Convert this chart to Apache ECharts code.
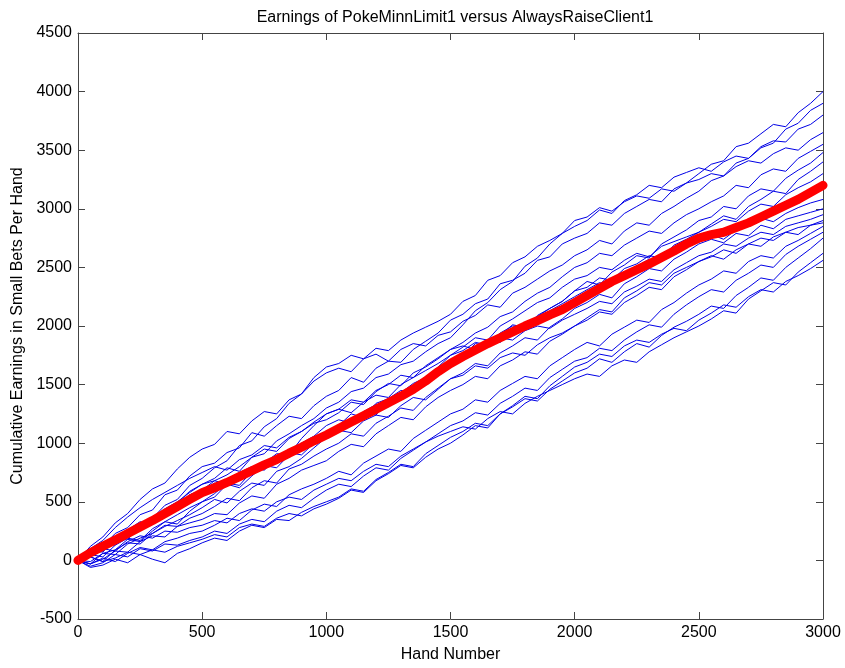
<!DOCTYPE html>
<html>
<head>
<meta charset="utf-8">
<script src="https://cdn.jsdelivr.net/npm/echarts@6/dist/echarts.min.js"></script>
<style>
html,body{margin:0;padding:0;background:#fff;}
#chart{width:845px;height:668px;}
</style>
</head>
<body>
<div id="chart"></div>
<script>
const titleText = 'Earnings of PokeMinnLimit1 versus AlwaysRaiseClient1';
const xName = 'Hand Number';
const yName = 'Cumulative Earnings in Small Bets Per Hand';

const hands = [0,50,100,150,200,250,300,350,400,450,500,550,600,650,700,750,800,850,900,950,1000,
1050,1100,1150,1200,1250,1300,1350,1400,1450,1500,1550,1600,1650,1700,1750,1800,1850,1900,1950,2000,
2050,2100,2150,2200,2250,2300,2350,2400,2450,2500,2550,2600,2650,2700,2750,2800,2850,2900,2950,3000];

const runA = [0,70,120,230,280,390,430,560,600,720,800,830,920,960,1090,1060,1150,1230,1210,1320,1400,
1450,1560,1520,1640,1700,1690,1800,1870,1940,2050,2100,2190,2230,2360,2390,2450,2560,2590,2700,2750,
2790,2880,2860,2960,3020,3080,3060,3170,3220,3300,3380,3410,3530,3560,3640,3720,3700,3820,3900,4000];
const runB = [0,120,200,320,400,520,610,660,780,880,950,990,1100,1080,1190,1270,1250,1370,1420,1530,1600,
1640,1610,1720,1760,1700,1800,1850,1830,1920,1950,2040,2090,2180,2160,2280,2330,2400,2470,2520,2600,
2650,2730,2700,2810,2880,2860,2960,3020,3090,3150,3240,3280,3390,3430,3520,3560,3680,3730,3840,3900];
const runC = [0,30,120,150,260,300,360,470,520,640,700,790,850,980,1020,1140,1210,1340,1420,1560,1650,
1680,1750,1720,1810,1790,1880,1940,1990,2040,2100,2210,2260,2390,2430,2540,2590,2680,2730,2790,2850,
2900,2990,2960,3070,3120,3200,3180,3270,3310,3350,3320,3400,3450,3430,3530,3580,3570,3680,3720,3800];
const runD = [0,50,80,170,240,300,340,420,470,560,600,680,730,800,880,910,1020,1080,1150,1210,1300,
1350,1440,1470,1560,1590,1670,1700,1780,1850,1900,2010,2130,2200,2310,2380,2510,2580,2700,2790,2900,
2930,3010,2980,3060,3110,3090,3170,3150,3220,3250,3300,3280,3360,3410,3390,3470,3520,3500,3590,3650];
const runE = [0,100,170,280,370,450,520,580,640,700,750,800,770,860,900,980,960,1050,1100,1170,1200,
1260,1350,1330,1440,1510,1490,1600,1650,1720,1800,1860,1940,1990,2080,2120,2210,2280,2330,2420,2500,
2540,2620,2600,2690,2750,2810,2790,2880,2950,3000,3060,3110,3200,3180,3290,3340,3320,3430,3490,3550];
const runF = [0,-30,60,90,180,160,250,330,310,420,500,540,650,620,720,810,790,900,960,1010,1100,
1150,1250,1220,1340,1380,1450,1430,1560,1620,1700,1740,1850,1830,1920,2010,1990,2080,2150,2210,2300,
2380,2350,2460,2520,2600,2580,2700,2760,2820,2900,2930,3020,3000,3110,3170,3150,3260,3330,3390,3480];
const runG = [0,60,150,130,240,310,360,440,500,580,650,700,790,760,880,950,930,1040,1100,1180,1250,
1290,1260,1350,1410,1390,1500,1560,1620,1680,1750,1820,1900,1880,2000,2060,2130,2200,2240,2330,2400,
2430,2500,2480,2560,2620,2590,2680,2720,2760,2800,2870,2940,2910,3020,3080,3150,3130,3250,3320,3400];
const runH = [0,30,-10,90,150,140,230,290,340,390,450,520,490,590,660,640,760,800,870,960,1050,
1120,1190,1260,1240,1370,1430,1510,1560,1650,1750,1790,1860,1840,1940,2000,1980,2090,2150,2210,2300,
2330,2410,2390,2490,2530,2600,2580,2690,2740,2800,2850,2910,2890,2980,3040,3020,3120,3180,3230,3300];
const runI = [0,60,120,200,180,290,360,420,470,560,600,660,640,730,790,770,870,930,1000,1060,1150,
1200,1170,1270,1330,1310,1420,1470,1560,1620,1700,1760,1810,1880,1860,1960,2020,2060,2130,2190,2250,
2310,2370,2340,2460,2510,2570,2550,2650,2700,2750,2780,2740,2820,2860,2920,2890,2960,3010,3050,3080];
const runJ = [0,-10,60,50,140,190,230,300,290,360,400,460,530,510,620,680,660,780,820,890,950,
1000,1080,1060,1170,1230,1300,1280,1390,1470,1550,1600,1680,1660,1770,1830,1900,1880,1990,2060,2150,
2200,2270,2240,2360,2420,2490,2470,2570,2630,2700,2740,2710,2790,2770,2860,2830,2910,2940,2970,3000];
const runK = [0,50,30,130,190,170,270,330,390,450,500,570,660,640,760,830,910,900,1040,1150,1250,
1290,1370,1350,1450,1500,1580,1560,1660,1730,1800,1830,1800,1860,1900,1880,1960,2000,1980,2050,2100,
2150,2210,2190,2290,2340,2400,2380,2480,2540,2600,2630,2700,2680,2750,2800,2780,2850,2880,2910,2950];
const runL = [0,-30,10,80,70,160,210,200,290,320,350,400,390,490,550,530,650,700,770,810,850,
930,990,970,1080,1150,1220,1200,1310,1390,1450,1500,1570,1550,1660,1710,1780,1760,1870,1930,2000,
2050,2120,2100,2200,2260,2330,2310,2420,2480,2550,2600,2570,2650,2700,2680,2760,2800,2780,2860,2900];
const runM = [0,90,70,190,260,330,310,420,490,590,650,680,650,750,800,780,870,920,900,1000,1050,
1110,1090,1190,1240,1220,1320,1390,1370,1460,1550,1580,1660,1640,1730,1770,1750,1840,1900,1940,2000,
2070,2140,2120,2240,2300,2370,2350,2450,2500,2550,2590,2650,2620,2700,2750,2730,2800,2840,2860,2880];
const runN = [0,-30,20,-10,60,110,90,160,190,230,250,300,360,340,430,480,460,560,610,650,700,
760,730,830,890,950,930,1040,1110,1180,1250,1290,1370,1350,1450,1510,1570,1550,1660,1730,1800,
1860,1830,1930,1990,2050,2030,2140,2200,2280,2350,2400,2470,2450,2550,2600,2580,2680,2730,2790,2850];
const runO = [0,-50,-20,50,30,100,80,140,130,170,200,250,230,310,350,330,420,470,450,530,600,
650,630,720,790,770,870,940,1010,1080,1150,1190,1260,1240,1340,1400,1470,1450,1560,1630,1700,
1730,1810,1790,1880,1950,2010,1990,2100,2180,2250,2310,2290,2390,2450,2520,2500,2610,2680,2740,2800];
const runP = [0,30,-10,20,70,50,10,-20,60,100,150,190,170,250,300,280,350,340,410,460,500,
540,610,590,690,750,820,800,910,980,1050,1100,1170,1150,1250,1310,1380,1360,1460,1530,1600,
1640,1720,1690,1780,1850,1820,1920,1990,2040,2100,2170,2150,2260,2330,2410,2390,2500,2580,2660,2750];
const runQ = [0,40,100,80,160,210,190,250,240,280,300,340,320,400,440,420,500,540,520,600,650,
700,680,760,820,800,890,950,1010,1060,1100,1140,1120,1210,1270,1250,1340,1400,1450,1500,1550,
1590,1570,1660,1710,1690,1780,1840,1900,1950,2000,2060,2130,2110,2230,2300,2370,2350,2460,2540,2620];
const runR = [0,-60,-40,10,-20,50,90,70,120,150,180,220,200,280,310,290,360,400,380,440,480,
530,600,580,680,740,810,790,880,950,1000,1070,1150,1130,1250,1320,1400,1380,1490,1570,1650,
1690,1760,1740,1830,1880,1860,1930,1980,1960,2050,2110,2180,2160,2250,2310,2290,2380,2430,2490,2560];

const meanRun = [0,65,120,175,230,285,340,400,460,520,578,620,665,715,765,815,860,915,965,1020,1070,
1125,1180,1235,1290,1345,1400,1460,1530,1610,1680,1740,1795,1850,1900,1950,2000,2045,2095,2140,2200,
2260,2320,2380,2430,2480,2530,2585,2640,2700,2750,2780,2800,2840,2880,2930,2980,3030,3080,3140,3200];

const blueRuns = [runA,runB,runC,runD,runE,runF,runG,runH,runI,runJ,runK,runL,runM,runN,runO,runP,runQ,runR];

const FONT = 'Liberation Sans, Arial, Helvetica, sans-serif';
const AXC = '#444';

function pairs(ys){ return ys.map((v,i)=>[hands[i], v]); }

const series = blueRuns.map(r => ({
  type:'line', data:pairs(r), showSymbol:false, symbol:'none', silent:true,
  lineStyle:{color:'#0000e6', width:1}, z:2
}));
series.push({
  type:'line', data:pairs(meanRun), showSymbol:false, symbol:'none', silent:true,
  lineStyle:{color:'#ff0000', width:9, cap:'round', join:'round'}, z:3
});

const plain = v => String(v);

const chart = echarts.init(document.getElementById('chart'), null, {renderer:'canvas'});
chart.setOption({
  animation:false,
  backgroundColor:'#fff',
  title:{
    text:titleText, left:450, top:5, textAlign:'center',
    textStyle:{fontFamily:FONT, fontSize:16, fontWeight:'normal', color:'#000'}
  },
  grid:{left:78, right:22, top:33, bottom:47, containLabel:false},
  xAxis:[{
    type:'value', min:0, max:3000, interval:500, position:'bottom',
    name:xName, nameLocation:'middle', nameGap:28,
    nameTextStyle:{fontFamily:FONT, fontSize:16, color:'#000'},
    axisLine:{show:true, onZero:false, lineStyle:{color:AXC, width:1}},
    axisTick:{show:true, inside:true, length:7, lineStyle:{color:AXC}},
    axisLabel:{fontFamily:FONT, fontSize:16, color:'#000', margin:6, formatter:plain},
    splitLine:{show:false}
  },{
    type:'value', min:0, max:3000, interval:500, position:'top',
    axisLine:{show:true, onZero:false, lineStyle:{color:AXC, width:1}},
    axisTick:{show:true, inside:true, length:7, lineStyle:{color:AXC}},
    axisLabel:{show:false}, splitLine:{show:false}
  }],
  yAxis:[{
    type:'value', min:-500, max:4500, interval:500, position:'left',
    name:yName, nameLocation:'middle', nameGap:50,
    nameTextStyle:{fontFamily:FONT, fontSize:16, color:'#000'},
    axisLine:{show:true, onZero:false, lineStyle:{color:AXC, width:1}},
    axisTick:{show:true, inside:true, length:7, lineStyle:{color:AXC}},
    axisLabel:{fontFamily:FONT, fontSize:16, color:'#000', margin:6, formatter:plain},
    splitLine:{show:false}
  },{
    type:'value', min:-500, max:4500, interval:500, position:'right',
    axisLine:{show:true, onZero:false, lineStyle:{color:AXC, width:1}},
    axisTick:{show:true, inside:true, length:7, lineStyle:{color:AXC}},
    axisLabel:{show:false}, splitLine:{show:false}
  }],
  series: series
});
</script>
</body>
</html>
